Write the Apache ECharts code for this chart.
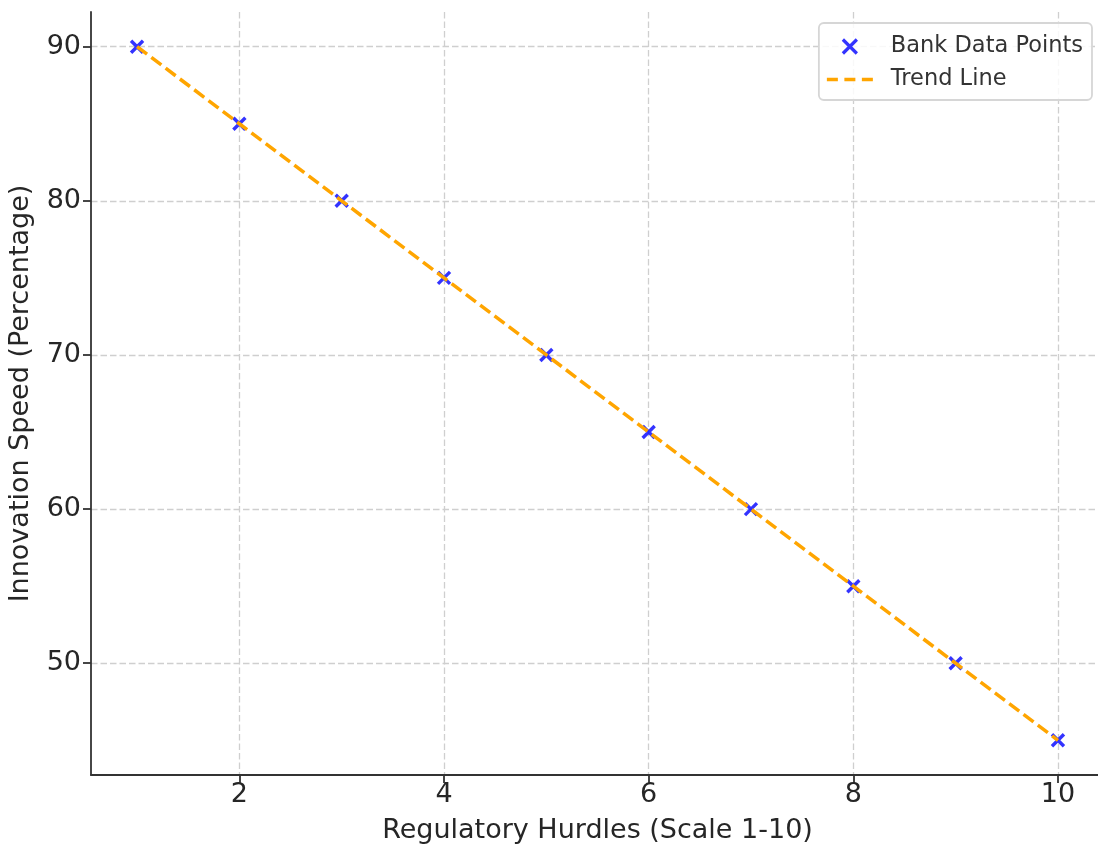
<!DOCTYPE html>
<html>
<head>
<meta charset="utf-8">
<script src="https://cdn.jsdelivr.net/npm/echarts@6/dist/echarts.min.js"></script>
<style>
html,body{margin:0;padding:0;background:#fff;overflow:hidden;}
#chart{width:1098px;height:845px;}
</style>
</head>
<body>
<div id="chart"></div>
<script>
const regulatoryHurdles = [1, 2, 3, 4, 5, 6, 7, 8, 9, 10];
const innovationSpeed = [90, 85, 80, 75, 70, 65, 60, 55, 50, 45];
const trendValues = [90, 85, 80, 75, 70, 65, 60, 55, 50, 45];
const xTicks = [2, 4, 6, 8, 10];
const yTicks = [50, 60, 70, 80, 90];

const xPath = 'path://M0,0L10,10M10,0L0,10';
const dashPath = 'path://M0,0h11v3.6h-11z M17.5,0h11v3.6h-11z M35,0h11v3.6h-11z';
const font = 'DejaVu Sans';
const textColor = '#262626';
const spineColor = '#333333';
const gridColor = '#cfcfcf';

const chart = echarts.init(document.getElementById('chart'), null, {renderer: 'canvas'});
chart.setOption({
  animation: false,
  backgroundColor: '#ffffff',
  textStyle: {fontFamily: font},
  grid: {left: 91, top: 12, width: 1013, height: 763, containLabel: false, outerBoundsMode: 'none'},
  legend: {
    orient: 'vertical',
    right: 6,
    top: 23,
    padding: [12, 9, 9, 8],
    itemGap: 10,
    itemWidth: 46,
    itemHeight: 14,
    borderColor: '#d6d6d6',
    borderWidth: 1.8,
    borderRadius: 5,
    backgroundColor: 'rgba(255,255,255,0.85)',
    textStyle: {fontFamily: font, fontSize: 22.5, color: '#333333', padding: [0, 0, 0, 13]},
    data: [
      {name: 'Bank Data Points', icon: xPath, itemStyle: {color: '#0000ff', borderColor: '#0000ff', borderWidth: 3.2}},
      {name: 'Trend Line', icon: dashPath, itemStyle: {color: '#ffa500', borderWidth: 0}}
    ]
  },
  xAxis: {
    type: 'value',
    min: 0.55,
    max: 10.45,
    name: 'Regulatory Hurdles (Scale 1-10)',
    nameLocation: 'middle',
    nameGap: 42,
    nameTextStyle: {fontFamily: font, fontSize: 27, color: textColor},
    axisLine: {show: true, onZero: false, lineStyle: {color: spineColor, width: 1.8}},
    axisTick: {show: true, inside: false, length: 8, customValues: xTicks, lineStyle: {color: spineColor, width: 1.8}},
    axisLabel: {customValues: xTicks, fontFamily: font, fontSize: 27, color: textColor, margin: 6},
    splitLine: {show: true, lineStyle: {color: gridColor, width: 1.3, type: [6.5, 3]}}
  },
  yAxis: {
    type: 'value',
    min: 42.75,
    max: 92.25,
    name: 'Innovation Speed (Percentage)',
    nameLocation: 'middle',
    nameGap: 57,
    nameRotate: 90,
    nameTextStyle: {fontFamily: font, fontSize: 27, color: textColor},
    axisLine: {show: true, onZero: false, lineStyle: {color: spineColor, width: 1.8}},
    axisTick: {show: true, inside: false, length: 8, customValues: yTicks, lineStyle: {color: spineColor, width: 1.8}},
    axisLabel: {customValues: yTicks, fontFamily: font, fontSize: 27, color: textColor, margin: 10},
    splitLine: {show: true, lineStyle: {color: gridColor, width: 1.3, type: [6.5, 3]}}
  },
  series: [
    {
      name: 'Bank Data Points',
      type: 'scatter',
      symbol: xPath,
      symbolSize: 12,
      itemStyle: {color: '#0000ff', borderColor: '#0000ff', borderWidth: 3.4},
      z: 2,
      data: regulatoryHurdles.map((x, i) => [x, innovationSpeed[i]])
    },
    {
      name: 'Trend Line',
      type: 'line',
      symbol: 'none',
      showSymbol: false,
      lineStyle: {color: '#ffa500', width: 3.5, type: [12.5, 5.4]},
      itemStyle: {color: '#ffa500'},
      z: 3,
      data: regulatoryHurdles.map((x, i) => [x, trendValues[i]])
    }
  ]
});
</script>
</body>
</html>
